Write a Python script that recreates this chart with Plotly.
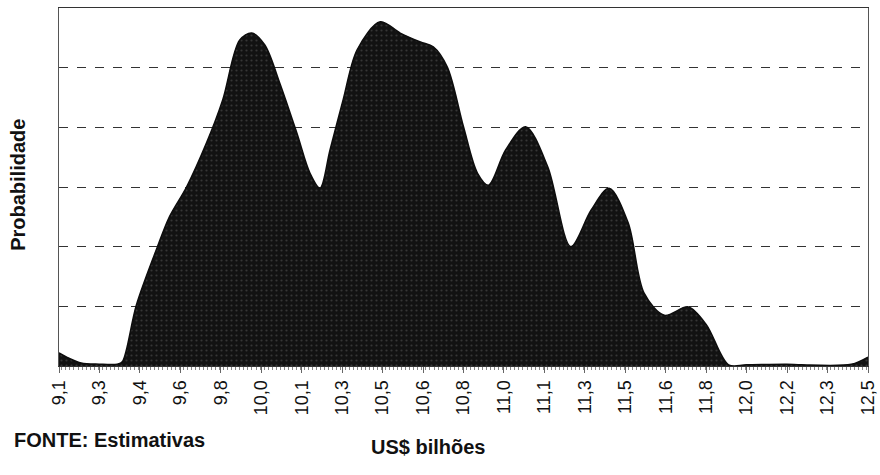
import plotly.graph_objects as go

# Distribution curve (US$ bilhões vs probability, in grid units)
x_vals = [9.100, 9.142, 9.193, 9.269, 9.345, 9.366, 9.425, 9.513, 9.564, 9.636,
          9.720, 9.788, 9.859, 9.910, 9.965, 10.028, 10.100, 10.155, 10.197, 10.239,
          10.294, 10.353, 10.450, 10.534, 10.619, 10.673, 10.732, 10.800, 10.859, 10.905,
          10.977, 11.061, 11.154, 11.251, 11.336, 11.412, 11.492, 11.559, 11.644, 11.745,
          11.821, 11.914, 11.989, 12.158, 12.220, 12.430, 12.500]
y_vals = [0.22, 0.13, 0.05, 0.03, 0.03, 0.07, 1.02, 1.99, 2.50, 3.00,
          3.74, 4.46, 5.46, 5.58, 5.38, 4.74, 3.90, 3.23, 2.98, 3.62,
          4.46, 5.30, 5.77, 5.58, 5.43, 5.35, 5.01, 4.01, 3.23, 3.03,
          3.62, 4.01, 3.34, 2.00, 2.61, 2.98, 2.40, 1.22, 0.85, 0.99,
          0.69, 0.02, 0.02, 0.03, 0.02, 0.03, 0.15]

tick_vals = [9.10, 9.27, 9.44, 9.61, 9.78, 9.95, 10.12, 10.29, 10.46, 10.63, 10.80,
             10.97, 11.14, 11.31, 11.48, 11.65, 11.82, 11.99, 12.16, 12.33, 12.50]
tick_text = ["9,1", "9,3", "9,4", "9,6", "9,8", "10,0", "10,1", "10,3", "10,5", "10,6", "10,8",
             "11,0", "11,1", "11,3", "11,5", "11,6", "11,8", "12,0", "12,2", "12,3", "12,5"]
grid_vals = [1, 2, 3, 4, 5]

fig = go.Figure()
fig.add_trace(go.Scatter(
    x=x_vals, y=y_vals, mode="lines",
    line=dict(color="#0d0d0d", width=1.5, shape="spline", smoothing=0.9),
    fill="tozeroy", fillcolor="#1a1a1a",
    fillpattern=dict(shape=".", bgcolor="#121212", fgcolor="#5a5a5a", size=5, solidity=0.15),
    hoverinfo="skip", showlegend=False,
))

font_family = "Liberation Sans, Arial, sans-serif"

fig.update_layout(
    width=880, height=475,
    margin=dict(l=59, r=12, t=8, b=109, autoexpand=False),
    paper_bgcolor="white", plot_bgcolor="white",
    font=dict(family=font_family, color="#111"),
    xaxis=dict(
        range=[9.1, 12.5], tickmode="array", tickvals=tick_vals, ticktext=tick_text,
        tickangle=-90, tickfont=dict(size=18, color="#111"),
        showgrid=False, zeroline=False, automargin=False,
        showline=True, linecolor="#333", linewidth=1, mirror=True,
        ticks="outside", ticklen=6, tickcolor="#666",
        minor=dict(ticks="outside", ticklen=3, tickcolor="#888", dtick=0.017),
    ),
    yaxis=dict(
        range=[0, 6], tickmode="array", tickvals=grid_vals, showticklabels=False,
        showgrid=True, gridcolor="#333", gridwidth=1, griddash="dash",
        zeroline=False, showline=True, linecolor="#555", linewidth=1, mirror=True,
        automargin=False,
    ),
    annotations=[
        dict(text="<b>Probabilidade</b>", xref="paper", yref="paper",
             x=-0.0507, y=0.506, xanchor="center", yanchor="middle", textangle=-90,
             showarrow=False, font=dict(size=20, color="#111")),
        dict(text="<b>FONTE: Estimativas</b>", xref="paper", yref="paper",
             x=-0.058, y=-0.207, xanchor="left", yanchor="middle", showarrow=False,
             font=dict(size=20, color="#111")),
        dict(text="<b>US$ bilhões</b>", xref="paper", yref="paper",
             x=0.456, y=-0.226, xanchor="center", yanchor="middle", showarrow=False,
             font=dict(size=20, color="#111")),
    ],
)

fig.write_html("out.html", config={"displayModeBar": False},
               post_script="document.body.style.margin='0';")
